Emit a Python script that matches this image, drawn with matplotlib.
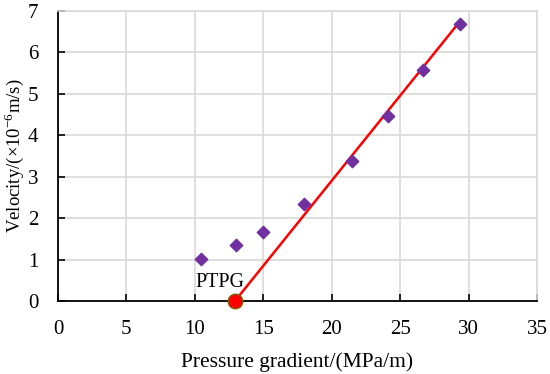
import matplotlib.pyplot as plt

# measured points
grad = [10.45, 13.0, 15.0, 18.0, 21.5, 24.1, 26.7, 29.35]
vel = [1.01, 1.35, 1.66, 2.34, 3.38, 4.47, 5.57, 6.68]

# fitted line through the high-gradient points
fit_x = [12.93, 29.05]
fit_y = [0.0, 6.62]

ptpg = 12.93

plt.rcParams['font.family'] = ['Liberation Serif', 'DejaVu Serif']
plt.rcParams['mathtext.fontset'] = 'custom'
plt.rcParams['mathtext.rm'] = 'Liberation Serif'

fig = plt.figure(figsize=(5.5, 3.74), dpi=100)
ax = fig.add_axes([58/550, 73/374, 479/550, 290/374])

ax.grid(True, color='#d9d9d9', linewidth=1.2)
ax.set_axisbelow(True)

ax.plot(fit_x, fit_y, color='red', linewidth=1.8, zorder=3)
ax.scatter(grad, vel, marker='D', s=40, color='#7030A0', zorder=4)
ax.scatter([ptpg], [0], s=110, color='red', edgecolors='#7f6000',
           linewidths=1, zorder=5, clip_on=False)
ax.text(11.8, 0.22, 'PTPG', ha='center', va='bottom', fontsize=14.5)

ax.set_xlim(0, 35)
ax.set_ylim(0, 7)
ax.set_xticks(range(0, 36, 5))
ax.set_yticks(range(0, 8))

for s in ['top', 'right']:
    ax.spines[s].set_color('#d9d9d9')
    ax.spines[s].set_linewidth(1.2)
for s in ['left', 'bottom']:
    ax.spines[s].set_linewidth(1.3)

ax.tick_params(direction='in', length=5, width=1.2, labelsize=15, pad=14)
ax.tick_params(axis='y', pad=14)
ax.set_xlabel('Pressure gradient/(MPa/m)', fontsize=15.5, labelpad=9)
ax.set_ylabel('Velocity/(×10$^{\\mathrm{-6}}$m/s)', fontsize=13.5,
              va='center')
ax.yaxis.set_label_coords(-0.092, 0.5)

fig.savefig('out.png', dpi=100)
